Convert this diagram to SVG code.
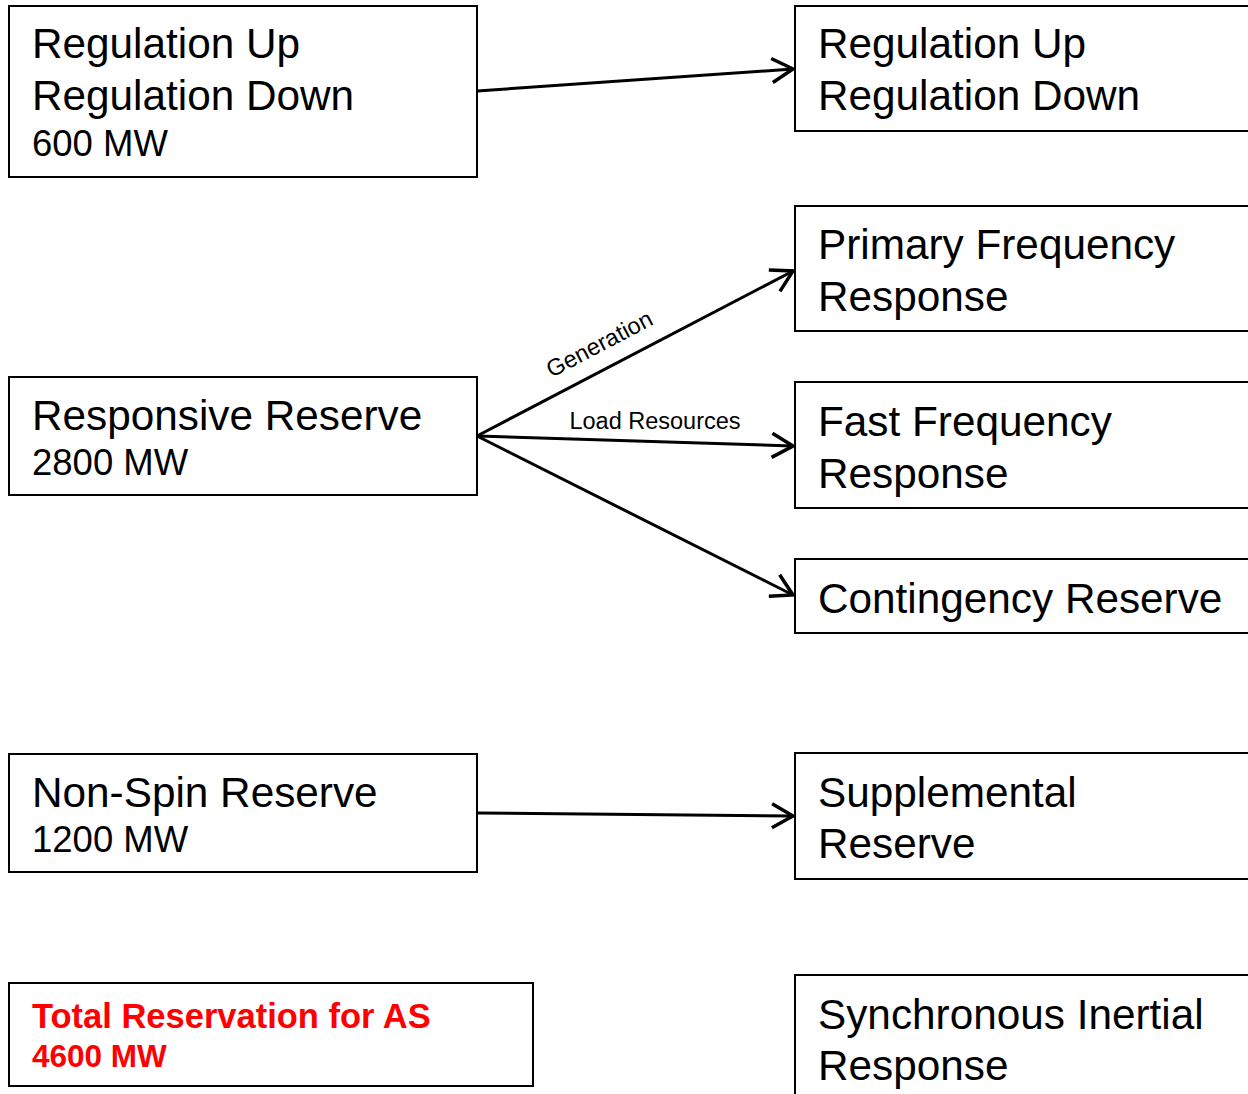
<svg xmlns="http://www.w3.org/2000/svg" width="1248" height="1094" viewBox="0 0 1248 1094">
<style>
.box{fill:#fff;stroke:#000;stroke-width:2}
.t{font-family:"Liberation Sans",Arial,sans-serif;font-size:42.3px;fill:#000}
.s{font-family:"Liberation Sans",Arial,sans-serif;font-size:36.5px;fill:#000}
.r{font-family:"Liberation Sans",Arial,sans-serif;font-weight:bold;fill:#ff0000}
.lab{font-family:"Liberation Sans",Arial,sans-serif;font-size:23.5px;fill:#000}
.c{stroke:#000;stroke-width:3;fill:none;marker-end:url(#ah)}
</style>
<defs>
<marker id="ah" markerUnits="userSpaceOnUse" markerWidth="32" markerHeight="32" viewBox="0 0 32 32" refX="29" refY="16" orient="auto">
<path d="M8,4 L29,16 L8,28" fill="none" stroke="#000" stroke-width="3.5" stroke-linejoin="miter"/>
</marker>
</defs>
<rect width="1248" height="1094" fill="#fff"/>
<g id="connectors">
<line class="c" x1="477" y1="91" x2="793" y2="69"/>
<line class="c" x1="477" y1="436" x2="793" y2="271"/>
<line class="c" x1="477" y1="436" x2="793" y2="446"/>
<line class="c" x1="477" y1="436" x2="793" y2="595"/>
<line class="c" x1="477" y1="813" x2="793" y2="816"/>
<text class="lab" transform="translate(603,351) rotate(-27.6)" text-anchor="middle">Generation</text>
<text class="lab" x="655" y="429" text-anchor="middle">Load Resources</text>
</g>
<g id="n-reg">
<rect class="box" x="9" y="6" width="468" height="171"/>
<text class="t" x="32" y="58">Regulation Up</text>
<text class="t" x="32" y="110">Regulation Down</text>
<text class="s" x="32" y="156">600 MW</text>
</g>
<g id="n-rrs">
<rect class="box" x="9" y="377" width="468" height="118"/>
<text class="t" x="32" y="430">Responsive Reserve</text>
<text class="s" x="32" y="475">2800 MW</text>
</g>
<g id="n-nsr">
<rect class="box" x="9" y="754" width="468" height="118"/>
<text class="t" x="32" y="807">Non-Spin Reserve</text>
<text class="s" x="32" y="852">1200 MW</text>
</g>
<g id="n-total">
<rect class="box" x="9" y="983" width="524" height="103"/>
<text class="r" x="32" y="1028" font-size="34.5">Total Reservation for AS</text>
<text class="r" x="32" y="1067" font-size="31.5">4600 MW</text>
</g>
<g id="n-reg2">
<rect class="box" x="795" y="6" width="470" height="125"/>
<text class="t" x="818" y="58">Regulation Up</text>
<text class="t" x="818" y="110">Regulation Down</text>
</g>
<g id="n-pfr">
<rect class="box" x="795" y="206" width="470" height="125"/>
<text class="t" x="818" y="259">Primary Frequency</text>
<text class="t" x="818" y="311">Response</text>
</g>
<g id="n-ffr">
<rect class="box" x="795" y="382" width="470" height="126"/>
<text class="t" x="818" y="436">Fast Frequency</text>
<text class="t" x="818" y="488">Response</text>
</g>
<g id="n-ecrs">
<rect class="box" x="795" y="559" width="470" height="74"/>
<text class="t" x="818" y="613">Contingency Reserve</text>
</g>
<g id="n-supp">
<rect class="box" x="795" y="753" width="470" height="126"/>
<text class="t" x="818" y="807">Supplemental</text>
<text class="t" x="818" y="858">Reserve</text>
</g>
<g id="n-sir">
<rect class="box" x="795" y="975" width="470" height="140"/>
<text class="t" x="818" y="1029">Synchronous Inertial</text>
<text class="t" x="818" y="1080">Response</text>
</g>
</svg>
